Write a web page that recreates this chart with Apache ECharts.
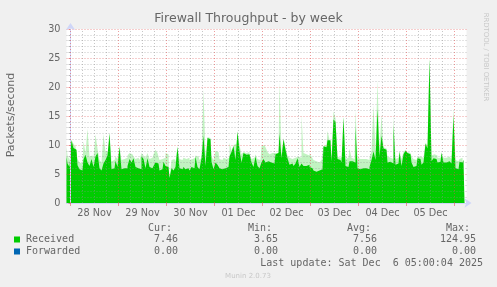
<!DOCTYPE html>
<html><head><meta charset="utf-8">
<script src="https://cdn.jsdelivr.net/npm/echarts@6/dist/echarts.min.js"></script>
<style>html,body{margin:0;padding:0;background:#F0F0F0;}#c{width:497px;height:287px;}</style>
</head><body><div id="c"></div>
<script>
// hours relative to 28 Nov 00:00, one value per hour
const startHour = -2;
const dayLabels = ['28 Nov','29 Nov','30 Nov','01 Dec','02 Dec','03 Dec','04 Dec','05 Dec'];
const dayStartHours = [0,24,48,72,96,120,144,168,192];
const labelHours = [12,36,60,84,108,132,156,180];
const yTicks = [0,5,10,15,20,25,30];

// dense (solid) part of Received
const receivedSolid = [
 8.0, 6.8, 6.2, 10.8, 9.5, 9.2, 6.5, 5.8, 5.6, 7.5,
 8.3, 7.0, 6.4, 7.6, 6.2, 8.0, 8.6, 6.0, 5.6, 6.8,
 7.4, 8.2, 12.0, 5.8, 6.0, 7.3, 6.2, 9.6, 5.8, 6.0,
 6.0, 6.4, 7.6, 7.0, 7.7, 6.2, 6.0, 5.8, 8.0, 7.6,
 6.0, 7.7, 6.2, 6.0, 6.4, 7.0, 6.8, 5.6, 5.8, 7.1,
 6.4, 6.2, 4.3, 6.0, 5.6, 6.2, 9.6, 6.0, 5.8, 6.2,
 5.8, 6.0, 5.6, 6.2, 6.0, 8.0, 6.2, 5.8, 7.7, 11.6,
 6.4, 11.2, 11.0, 7.1, 5.8, 7.0, 6.6, 6.0, 5.8, 6.0,
 5.8, 6.2, 8.0, 8.8, 9.8, 7.4, 12.3, 9.0, 7.0, 8.6,
 8.3, 8.4, 8.2, 7.0, 6.2, 8.0, 6.4, 6.0, 7.0, 7.6,
 7.0, 7.2, 7.0, 7.2, 6.8, 8.4, 8.6, 12.0, 7.7, 11.0,
 9.2, 7.7, 6.6, 6.8, 6.4, 6.8, 7.7, 6.2, 6.8, 6.4,
 6.4, 6.6, 6.2, 6.0, 5.6, 5.4, 5.6, 5.4, 5.8, 9.8,
 9.6, 10.8, 10.8, 7.1, 14.4, 14.0, 7.6, 7.4, 7.0, 14.8,
 6.4, 6.2, 7.2, 7.2, 7.0, 13.2, 6.0, 5.8, 6.0, 5.8,
 6.0, 5.8, 6.2, 7.4, 8.9, 7.4, 16.2, 8.0, 11.6, 9.4,
 9.2, 7.0, 7.1, 6.8, 13.4, 6.6, 6.8, 8.8, 6.4, 8.4,
 9.0, 8.6, 8.4, 7.0, 6.2, 6.4, 7.7, 7.6, 6.6, 7.0,
 10.2, 9.4, 24.8, 7.2, 7.7, 7.6, 7.0, 7.1, 8.6, 7.0,
 7.0, 7.2, 7.0, 6.8, 15.0, 6.0, 5.8, 7.1, 7.0, 7.46
];
// light fringe (peaks) of Received
const receivedPeak = [
 9.7, 8.2, 7.4, 10.9, 10.2, 9.8, 7.6, 7.0, 6.8, 10.6,
 8.6, 12.8, 8.0, 8.2, 7.8, 11.8, 9.4, 7.4, 7.0, 11.9,
 8.8, 9.0, 12.2, 7.2, 7.4, 8.0, 7.6, 9.9, 7.4, 7.6,
 7.8, 8.2, 8.6, 8.4, 8.0, 7.6, 7.8, 7.4, 8.6, 8.2,
 7.8, 8.6, 7.6, 7.8, 8.4, 9.2, 8.6, 7.4, 7.6, 7.8,
 8.6, 8.4, 4.4, 7.4, 7.6, 7.2, 9.8, 7.6, 7.4, 7.8,
 7.6, 7.8, 7.4, 7.6, 7.8, 8.2, 8.0, 7.4, 7.8, 19.6,
 8.0, 11.4, 11.2, 8.0, 7.4, 9.0, 8.8, 7.6, 7.4, 7.8,
 7.6, 7.8, 10.4, 9.0, 10.0, 10.2, 12.4, 10.0, 8.4, 8.8,
 8.6, 8.8, 8.4, 7.6, 7.8, 8.4, 7.6, 7.4, 9.8, 10.0,
 9.6, 8.8, 8.4, 8.6, 8.6, 8.8, 8.6, 20.9, 8.4, 11.2,
 9.6, 8.2, 7.8, 7.6, 7.8, 8.0, 8.0, 7.8, 15.2, 8.6,
 8.4, 8.2, 8.6, 8.0, 7.4, 7.2, 7.0, 7.2, 7.4, 9.8,
 10.0, 12.4, 11.0, 7.6, 15.8, 14.6, 8.0, 7.8, 8.0, 15.0,
 7.6, 7.8, 9.4, 7.8, 7.6, 16.0, 7.8, 7.6, 7.6, 7.4,
 7.6, 7.4, 7.8, 9.0, 16.9, 9.0, 21.2, 9.4, 15.2, 9.6,
 9.4, 8.0, 7.8, 7.6, 15.2, 7.6, 7.8, 9.0, 7.6, 8.8,
 9.2, 8.8, 8.6, 8.0, 7.6, 7.4, 8.0, 8.0, 7.8, 8.0,
 10.4, 10.0, 25.0, 8.2, 8.4, 8.2, 7.8, 7.8, 8.8, 7.8,
 7.8, 8.0, 7.8, 7.6, 16.3, 7.4, 7.2, 7.6, 7.8, 7.6
];

const legendNames = ['Received','Forwarded'];
const legendColors = ['#00CC00','#0066B3'];
const curValues = ['7.46','0.00'];
const minValues = ['3.65','0.00'];
const avgValues = ['7.56','0.00'];
const maxValues = ['124.95','0.00'];
const lastUpdate = 'Last update: Sat Dec  6 05:00:04 2025';

const FONT = '"DejaVu Sans"';
const MONO = '"DejaVu Sans Mono"';
const TXT = '#666666';
const MAJOR = 'rgba(222,79,79,0.55)';
const MINOR = 'rgba(143,143,143,0.5)';
const DOT = [1, 2];

const toPairs = arr => arr.map((v, i) => [startHour + i, v]);

const gridLines = [];
dayStartHours.forEach(d => {
  gridLines.push({xAxis: d, lineStyle: {color: MAJOR, type: DOT, width: 1}});
  [6, 12, 18].forEach(o => {
    if (d + o < 198) gridLines.push({xAxis: d + o, lineStyle: {color: MINOR, type: DOT, width: 1}});
  });
});

const graphics = [];
function txt(text, x, y, opts) {
  graphics.push(Object.assign({type: 'text', x: x, y: y, silent: true, z: 10,
    style: Object.assign({text: text, fill: TXT, font: '10px ' + MONO, align: 'left', verticalAlign: 'middle'}, opts.style || {})},
    opts.el || {}));
}
txt('Firewall Throughput - by week', 248.5, 19, {style: {font: '12.5px ' + FONT, align: 'center'}});
txt('Packets/second', 11, 115, {style: {font: '11px ' + FONT, align: 'center'}, el: {rotation: Math.PI / 2}});
txt('RRDTOOL / TOBI OETIKER', 486, 57, {style: {font: '6.9px ' + FONT, align: 'center', fill: '#c8c8c8'}, el: {rotation: -Math.PI / 2}});
const colX = [172, 272, 371, 470];
const headers = ['Cur:', 'Min:', 'Avg:', 'Max:'];
headers.forEach((h, i) => txt(h, colX[i], 228, {style: {align: 'right'}}));
const rowY = [239.5, 251.5];
legendNames.forEach((n, r) => {
  graphics.push({type: 'rect', shape: {x: 14, y: rowY[r] - 3, width: 6, height: 6}, style: {fill: legendColors[r]}, silent: true, z: 10});
  txt(n, 26, rowY[r], {});
  [curValues, minValues, avgValues, maxValues].forEach((arr, c) => txt(arr[r], colX[c] + 6, rowY[r], {style: {align: 'right'}}));
});
txt(lastUpdate, 483, 263.5, {style: {align: 'right'}});
txt('Munin 2.0.73', 248, 276, {style: {font: '7px ' + FONT, align: 'center', fill: '#c8c8c8'}});

const chart = echarts.init(document.getElementById('c'), null, {renderer: 'canvas'});
chart.setOption({
  backgroundColor: '#F0F0F0',
  animation: false,
  grid: {left: 66.5, right: 30.5, top: 29, bottom: 84, show: true, backgroundColor: '#FFFFFF', borderWidth: 0},
  xAxis: {
    type: 'value', min: -2, max: 198, z: 3,
    axisLine: {show: true, lineStyle: {color: '#CFD6F8', width: 1}, symbol: ['none', 'arrow'], symbolSize: [7, 7], symbolOffset: [0, 5]},
    axisTick: {show: true, customValues: dayStartHours, length: 3, lineStyle: {color: MAJOR}},
    splitLine: {show: false},
    axisLabel: {customValues: labelHours, formatter: v => dayLabels[labelHours.indexOf(v)], color: TXT, fontFamily: 'DejaVu Sans', fontSize: 9.7, margin: 5}
  },
  yAxis: {
    type: 'value', min: 0, max: 30, interval: 5, z: 3,
    axisLine: {show: true, lineStyle: {color: '#CFD6F8', width: 1}, symbol: ['none', 'arrow'], symbolSize: [7, 7], symbolOffset: [0, 6]},
    axisTick: {show: true, length: 2, lineStyle: {color: MAJOR}},
    minorTick: {show: true, splitNumber: 5, length: 2, lineStyle: {color: MINOR}},
    splitLine: {show: true, lineStyle: {color: MAJOR, type: DOT, width: 1}},
    minorSplitLine: {show: true, lineStyle: {color: MINOR, type: DOT, width: 1}},
    axisLabel: {color: TXT, fontFamily: 'DejaVu Sans', fontSize: 9.7, margin: 6, formatter: v => yTicks.includes(v) ? String(v) : ''}
  },
  series: [
    {name: 'Received peak', type: 'line', data: toPairs(receivedPeak), step: 'middle', showSymbol: false, silent: true,
     lineStyle: {width: 0}, areaStyle: {color: 'rgba(0,204,0,0.35)'}, z: 1},
    {name: 'Received', type: 'line', data: toPairs(receivedSolid), step: 'middle', showSymbol: false, silent: true,
     lineStyle: {width: 0}, areaStyle: {color: '#00CC00', opacity: 1}, z: 2},
    {name: 'grid', type: 'line', data: [], z: 4, silent: true,
     markLine: {silent: true, symbol: ['none', 'none'], animation: false, label: {show: false}, emphasis: {disabled: true},
       lineStyle: {type: DOT, width: 1, opacity: 1}, data: gridLines}}
  ],
  graphic: graphics
});
</script></body></html>
